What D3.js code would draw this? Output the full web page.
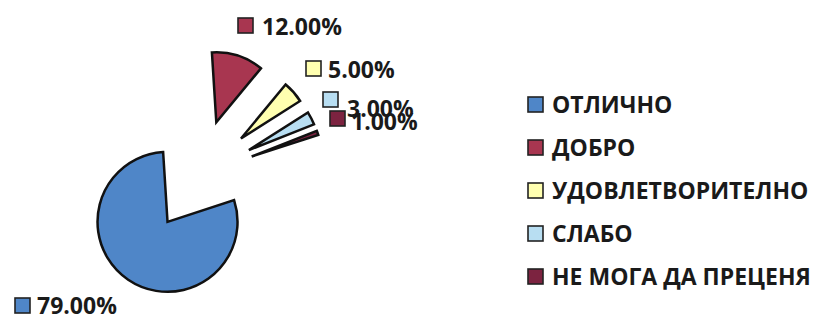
<!DOCTYPE html>
<html>
<head>
<meta charset="utf-8">
<script src="https://cdn.jsdelivr.net/npm/d3@7"></script>
<style>
  body { margin: 0; background: #fff; }
  text { font-family: "Open Sans", "DejaVu Sans", sans-serif; font-weight: 700; fill: #1a1a1a; }
</style>
</head>
<body>
<svg id="chart" width="822" height="320"></svg>
<script>
// Survey answers and their shares
const categories = ["ОТЛИЧНО", "ДОБРО", "УДОВЛЕТВОРИТЕЛНО", "СЛАБО", "НЕ МОГА ДА ПРЕЦЕНЯ"];
const shares = [0.79, 0.12, 0.05, 0.03, 0.01];
const sliceColors = ["#4f86c8", "#a83650", "#ffffb0", "#b8def2", "#7c2340"];

// Layout of the value labels: key square (top-left) and text (left, baseline)
const labelKeyPos = [[15, 298], [238, 18], [306, 61], [323, 92], [330, 111]];
const labelTextPos = [[37, 314], [262, 35], [328, 78], [347, 117], [351, 130]];

const svg = d3.select("#chart");
const cx = 199, cy = 175.5, radius = 70, explode = 56;
const start = 72 * Math.PI / 180;

const pie = d3.pie().sort(null).value(d => d)
  .startAngle(start).endAngle(start + 2 * Math.PI);
const arcs = pie(shares);
const arc = d3.arc().innerRadius(0).outerRadius(radius);
const color = d3.scaleOrdinal().domain(categories).range(sliceColors);
const fmt = d3.format(".2%");

// Exploded slices, each pushed out along its bisector
const g = svg.append("g").attr("transform", `translate(${cx},${cy})`);
g.selectAll("path.slice")
  .data(arcs)
  .join("path")
  .attr("class", "slice")
  .attr("d", arc)
  .attr("fill", (d, i) => color(categories[i]))
  .attr("stroke", "#111")
  .attr("stroke-width", 2.5)
  .attr("stroke-linejoin", "miter")
  .attr("transform", d => {
    const a = (d.startAngle + d.endAngle) / 2;
    return `translate(${explode * Math.sin(a)},${-explode * Math.cos(a)})`;
  });

// Value labels with legend keys
const keySize = 15;
const labels = svg.append("g");
shares.forEach((v, i) => {
  labels.append("rect")
    .attr("x", labelKeyPos[i][0]).attr("y", labelKeyPos[i][1])
    .attr("width", keySize).attr("height", keySize)
    .attr("fill", color(categories[i]))
    .attr("stroke", "#222").attr("stroke-width", 1.6);
  labels.append("text")
    .attr("x", labelTextPos[i][0]).attr("y", labelTextPos[i][1])
    .attr("font-size", 23)
    .text(fmt(v));
});

// Legend
const legend = svg.append("g").attr("transform", "translate(528,0)");
const rowY = d3.scalePoint().domain(categories).range([113, 285]);
const rows = legend.selectAll("g.row").data(categories).join("g")
  .attr("class", "row")
  .attr("transform", d => `translate(0,${rowY(d)})`);
rows.append("rect")
  .attr("x", 0).attr("y", -16)
  .attr("width", keySize).attr("height", keySize)
  .attr("fill", d => color(d))
  .attr("stroke", "#222").attr("stroke-width", 1.6);
rows.append("text")
  .attr("x", 24).attr("y", 0)
  .attr("font-size", 23)
  .text(d => d);
</script>
</body>
</html>
